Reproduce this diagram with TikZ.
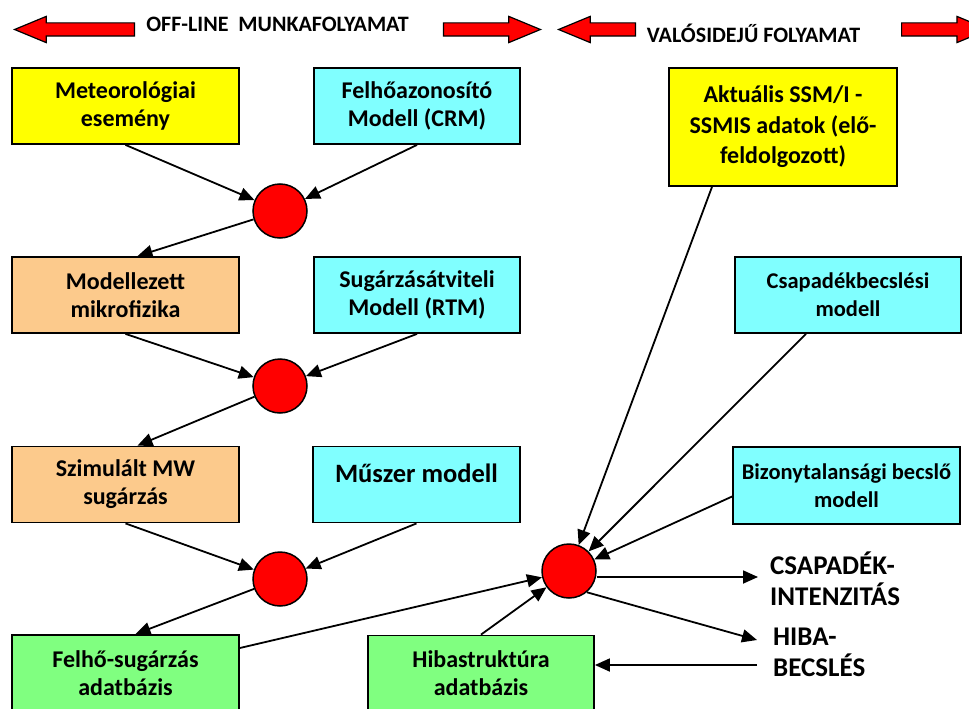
\documentclass[tikz,border=0pt]{standalone}
\usepackage{fontspec}
\setmainfont{Carlito}
\usetikzlibrary{arrows.meta,shapes.arrows}

\definecolor{boxyellow}{RGB}{255,255,0}
\definecolor{boxcyan}{RGB}{128,255,255}
\definecolor{boxorange}{RGB}{252,202,140}
\definecolor{boxgreen}{RGB}{128,255,128}

\newcommand{\bxfont}{\bfseries\fontsize{24}{28}\selectfont}
\newcommand{\smbxfont}{\bfseries\fontsize{22.5}{28}\selectfont}
\newcommand{\hdfont}{\bfseries\fontsize{22}{26}\selectfont}
\newcommand{\outfont}{\bfseries\fontsize{27}{31}\selectfont}

\tikzset{
  box/.style={draw, line width=1.8pt, minimum width=227pt, minimum height=76pt,
    inner sep=2pt, align=center, font=\bxfont},
  mixer/.style={draw, circle, fill=red, line width=1.5pt, minimum size=54pt, inner sep=0pt},
  arr/.style={line width=1.8pt, -{Triangle[length=15pt,width=13pt]}},
  banarrow/.style={single arrow, draw, fill=red, line width=1.2pt, text height=12pt,
    text depth=0pt, single arrow head extend=6.5pt, single arrow tip angle=45, inner sep=0pt},
  outtext/.style={anchor=west, align=left, font=\outfont, inner ysep=0pt}
}

\begin{document}
\begin{tikzpicture}[x=1pt, y=-1pt]
  \useasboundingbox (0,0) rectangle (969,709);

  % banner on top: off-line and real-time parts
  \node[banarrow, shape border rotate=180, anchor=tip, minimum height=120pt] (OffL) at (13,29.5) {};
  \node[font=\hdfont] (OffTxt) at (277.5,24) {OFF-LINE\ \ MUNKAFOLYAMAT};
  \node[banarrow, anchor=tip, minimum height=97pt] (OffR) at (542,29.5) {};
  \node[banarrow, shape border rotate=180, anchor=tip, minimum height=77pt] (RtL) at (557,29.5) {};
  \node[font=\hdfont] (RtTxt) at (753.5,33) {VALÓSIDEJŰ FOLYAMAT};
  \node[banarrow, anchor=tail, minimum height=87pt] (RtR) at (901,29.5) {};

  % off-line chain, left column
  \node[box, fill=boxyellow] (Met) at (125.5,106) {Meteorológiai\\esemény};
  \node[box, fill=boxcyan, minimum width=206pt] (CRM) at (417,106) {Felhőazonosító\\Modell (CRM)};
  \node[mixer] (C1) at (280,211) {};

  \node[box, fill=boxorange] (Mod) at (125.5,295) {Modellezett\\mikrofizika};
  \node[box, fill=boxcyan, minimum width=206pt] (RTM) at (417,295) {Sugárzásátviteli\\Modell (RTM)};
  \node[mixer] (C2) at (280,386) {};

  \node[box, fill=boxorange] (Szim) at (125.5,484.5) {Szimulált MW\\sugárzás};
  \node[box, fill=boxcyan, minimum width=207pt] (Musz) at (416.5,484.5)
    {\fontsize{26.5}{28}\selectfont Műszer modell\\[-6pt]\mbox{}};
  \node[mixer] (C3) at (280,579) {};

  \node[box, fill=boxgreen] (Felho) at (125.5,673) {Felhő-sugárzás\\adatbázis};

  % real-time part, right column
  \node[box, fill=boxyellow, minimum width=228pt, minimum height=118pt,
    font=\bfseries\fontsize{24}{30.5}\selectfont] (Akt) at (783,127)
    {Aktuális SSM/I -\\SSMIS adatok (elő-\\feldolgozott)};
  \node[box, fill=boxcyan, minimum width=226pt, font=\smbxfont] (Csap) at (848,295) {Csapadékbecslési\\modell};
  \node[box, fill=boxcyan, minimum height=77pt, font=\smbxfont] (Biz) at (846.5,485.5) {Bizonytalansági becslő\\modell};
  \node[mixer] (C4) at (569,571) {};
  \node[box, fill=boxgreen, minimum width=226pt] (Hiba) at (481,673.5) {Hibastruktúra\\adatbázis};

  % outputs
  \node[outtext, inner xsep=12pt] (CsInt) at (758,579) {CSAPADÉK-\\INTENZITÁS};
  \node[outtext, inner xsep=16pt] (HibaB) at (757,652) {HIBA-\\BECSLÉS};

  % connectors of the off-line chain
  \draw[arr] (Met.south) -- (C1);
  \draw[arr] (CRM.south) -- (C1);
  \draw[arr] (C1) -- ([xshift=12pt]Mod.north);
  \draw[arr] (Mod.south) -- (C2);
  \draw[arr] (RTM.south) -- (C2);
  \draw[arr] (C2) -- ([xshift=12pt]Szim.north);
  \draw[arr] (Szim.south) -- (C3);
  \draw[arr] (Musz.south) -- (C3);
  \draw[arr] (C3) -- ([xshift=10pt]Felho.north);

  % connectors of the real-time part
  \draw[arr] ([yshift=25pt]Felho.east) -- (C4);
  \draw[arr] (Hiba.north) -- (C4);
  \draw[arr] ([xshift=-71pt]Akt.south) -- (C4);
  \draw[arr] ([xshift=-42pt]Csap.south) -- (C4);
  \draw[arr] ([yshift=-11pt]Biz.west) -- (C4);
  \draw[arr] ([yshift=-6pt]C4.east) -- ([yshift=-6pt]C4.east -| CsInt.west);
  \draw[arr] (C4.-50) -- ([yshift=12pt]HibaB.west);
  \draw[arr] ([yshift=-13pt]HibaB.west) -- ([yshift=-13pt]HibaB.west -| Hiba.east);
\end{tikzpicture}
\end{document}
